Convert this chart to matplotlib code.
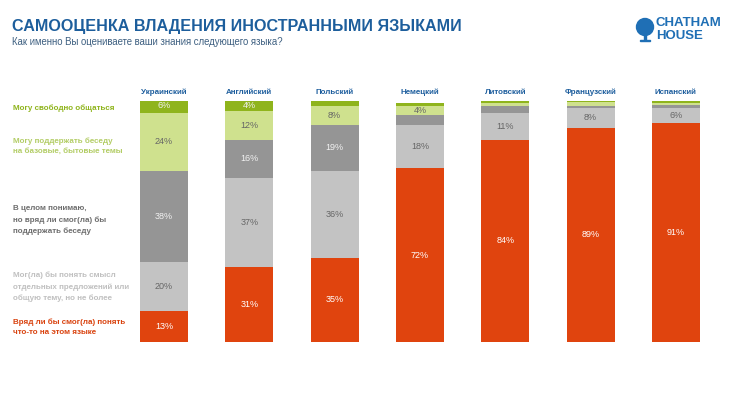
import matplotlib.pyplot as plt
from matplotlib.patches import Ellipse, Rectangle

plt.rcParams['font.family'] = ['Liberation Sans', 'DejaVu Sans']

languages = ['Украинский', 'Английский', 'Польский', 'Немецкий',
             'Литовский', 'Французский', 'Испанский']

# from bottom to top of each bar
cant = [13, 31, 35, 72, 84, 89, 91]
sense = [20, 37, 36, 18, 11, 8, 6]
understand = [38, 16, 19, 4, 3, 1, 1.5]
basic = [24, 12, 8, 4, 1, 1.5, 0.7]
fluent = [6, 4, 2, 1, 1, 1, 0.8]

# labels printed inside the segments ('' = none)
cant_lbl = ['13%', '31%', '35%', '72%', '84%', '89%', '91%']
sense_lbl = ['20%', '37%', '36%', '18%', '11%', '8%', '6%']
understand_lbl = ['38%', '16%', '19%', '', '', '', '']
basic_lbl = ['24%', '12%', '8%', '4%', '', '', '']
fluent_lbl = ['6%', '4%', '', '', '', '', '']

series = [
    (cant, cant_lbl, '#e0440e', 'white'),
    (sense, sense_lbl, '#c3c3c3', '#666666'),
    (understand, understand_lbl, '#959595', '#f2f2f2'),
    (basic, basic_lbl, '#cfe18e', '#666666'),
    (fluent, fluent_lbl, '#8fb41c', '#f2f2f2'),
]

legend_texts = [
    'Вряд ли бы смог(ла) понять\nчто-то на этом языке',
    'Мог(ла) бы понять смысл\nотдельных предложений или\nобщую тему, но не более',
    'В целом понимаю,\nно вряд ли смог(ла) бы\nподдержать беседу',
    'Могу поддержать беседу\nна базовые, бытовые темы',
    'Могу свободно общаться',
]
legend_colors = ['#d9420e', '#c0c0c0', '#6e6e6e', '#b3cd66', '#8fb41c']
legend_y = [327, 287, 220, 146, 108]  # pixel rows in the slide

fig = plt.figure(figsize=(7.32, 3.96), dpi=100)
W, H = 732, 396

ax = fig.add_axes([121.3 / W, 1 - 342 / H, 597.3 / W, 241 / H])
x = list(range(len(languages)))
bottom = [0] * len(languages)
for vals, lbls, col, tcol in series:
    ax.bar(x, vals, bottom=bottom, width=0.5625, color=col, linewidth=0)
    for i, v in enumerate(vals):
        if lbls[i]:
            ax.text(i, bottom[i] + v / 2, lbls[i], ha='center', va='center',
                    fontsize=6.5, color=tcol)
    bottom = [b + v for b, v in zip(bottom, vals)]

for i, name in enumerate(languages):
    ax.text(i, 103.7, name, ha='center', va='center', fontsize=5.8,
            fontweight='bold', color='#1f5f9e', clip_on=False)

ax.set_xlim(-0.5, 6.5)
ax.set_ylim(0, 100)
ax.axis('off')

for txt, col, py in zip(legend_texts, legend_colors, legend_y):
    fig.text(13 / W, 1 - py / H, txt, ha='left', va='center', fontsize=5.8,
             fontweight='bold', color=col, linespacing=1.7)

fig.text(12 / W, 1 - 26 / H, 'САМООЦЕНКА ВЛАДЕНИЯ ИНОСТРАННЫМИ ЯЗЫКАМИ',
         ha='left', va='center', fontsize=11.6, fontweight='bold', color='#1d5e9c')
fig.text(12 / W, 1 - 42 / H, 'Как именно Вы оцениваете ваши знания следующего языка?',
         ha='left', va='center', fontsize=6.9, color='#3d5f80')

# logo
fig.patches.append(Ellipse((645 / W, 1 - 27 / H), 17 / W, 17 / H,
                           transform=fig.transFigure, color='#1f6fb5'))
fig.patches.append(Rectangle((644 / W, 1 - 40 / H), 2 / W, 5 / H,
                             transform=fig.transFigure, color='#1f6fb5'))
fig.patches.append(Rectangle((640 / W, 1 - 41 / H), 10 / W, 1.5 / H,
                             transform=fig.transFigure, color='#1f6fb5'))
fig.text(656 / W, 1 - 23 / H, 'CHATHAM', ha='left', va='center', fontsize=9.5,
         fontweight='bold', color='#1f6fb5')
fig.text(656 / W, 1 - 36 / H, 'HOUSE', ha='left', va='center', fontsize=9.5,
         fontweight='bold', color='#1f6fb5')

plt.savefig('out.png', dpi=100)
